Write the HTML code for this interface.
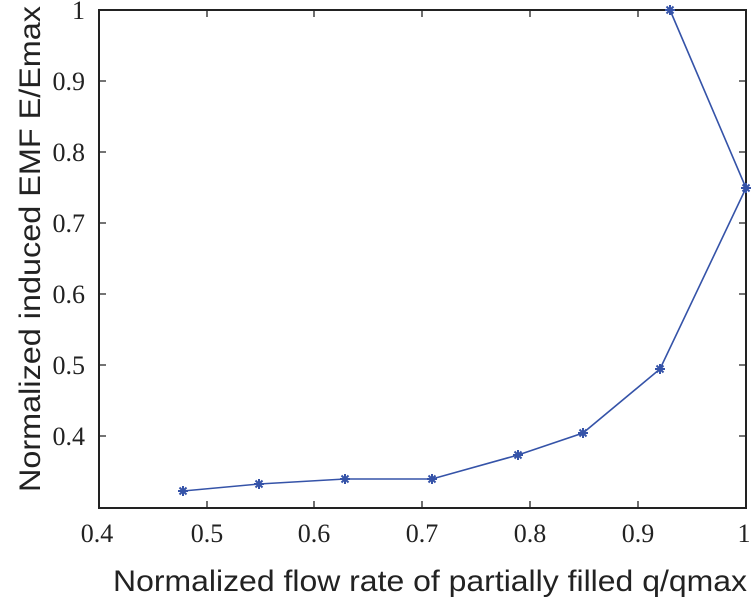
<!DOCTYPE html>
<html><head><style>body{margin:0;background:#fff}</style></head><body>
<svg width="752" height="597" xmlns="http://www.w3.org/2000/svg">
<defs><path id="m" d="M-5,0h10M0,-5v10M-3.5,-3.5l7,7M-3.5,3.5l7,-7"/></defs>
<rect width="752" height="597" fill="#fff"/>
<g stroke="#222" stroke-width="2" fill="none">
<rect x="99" y="10" width="647" height="498"/>
</g>
<g stroke="#222" stroke-width="1.3">
<path d="M207,508v-7M314,508v-7M422,508v-7M530,508v-7M638,508v-7M207,10v7M314,10v7M422,10v7M530,10v7M638,10v7"/>
<path d="M99,436h7M99,365h7M99,294h7M99,223h7M99,152h7M99,81h7M746,436h-7M746,365h-7M746,294h-7M746,223h-7M746,152h-7M746,81h-7"/>
</g>
<g font-family="Liberation Serif, serif" font-size="26" fill="#222" text-anchor="middle">
<text x="97" y="542">0.4</text><text x="207" y="542">0.5</text><text x="314" y="542">0.6</text><text x="422" y="542">0.7</text><text x="530" y="542">0.8</text><text x="638" y="542">0.9</text><text x="744" y="542">1</text>
</g>
<g font-family="Liberation Serif, serif" font-size="26" fill="#222" text-anchor="end">
<text x="85" y="445">0.4</text><text x="85" y="374">0.5</text><text x="85" y="303">0.6</text><text x="85" y="232">0.7</text><text x="85" y="161">0.8</text><text x="85" y="90">0.9</text><text x="85" y="19">1</text>
</g>
<text x="430" y="591" font-family="Liberation Sans, sans-serif" font-size="30" fill="#222" text-anchor="middle" textLength="634" lengthAdjust="spacingAndGlyphs">Normalized flow rate of partially filled q/qmax</text>
<text transform="translate(40,249) rotate(-90)" font-family="Liberation Sans, sans-serif" font-size="30" fill="#222" text-anchor="middle" textLength="486" lengthAdjust="spacingAndGlyphs">Normalized induced EMF E/Emax</text>
<polyline fill="none" stroke="#3553a8" stroke-width="1.6" points="183,491 259,484 345,479 432,479 518,455 583,433 660,369 746,188 670,10"/>
<g stroke="#3553a8" stroke-width="2">
<use href="#m" x="183" y="491"/><use href="#m" x="259" y="484"/><use href="#m" x="345" y="479"/><use href="#m" x="432" y="479"/><use href="#m" x="518" y="455"/><use href="#m" x="583" y="433"/><use href="#m" x="660" y="369"/><use href="#m" x="746" y="188"/><use href="#m" x="670" y="10"/>
</g>
</svg>
</body></html>
